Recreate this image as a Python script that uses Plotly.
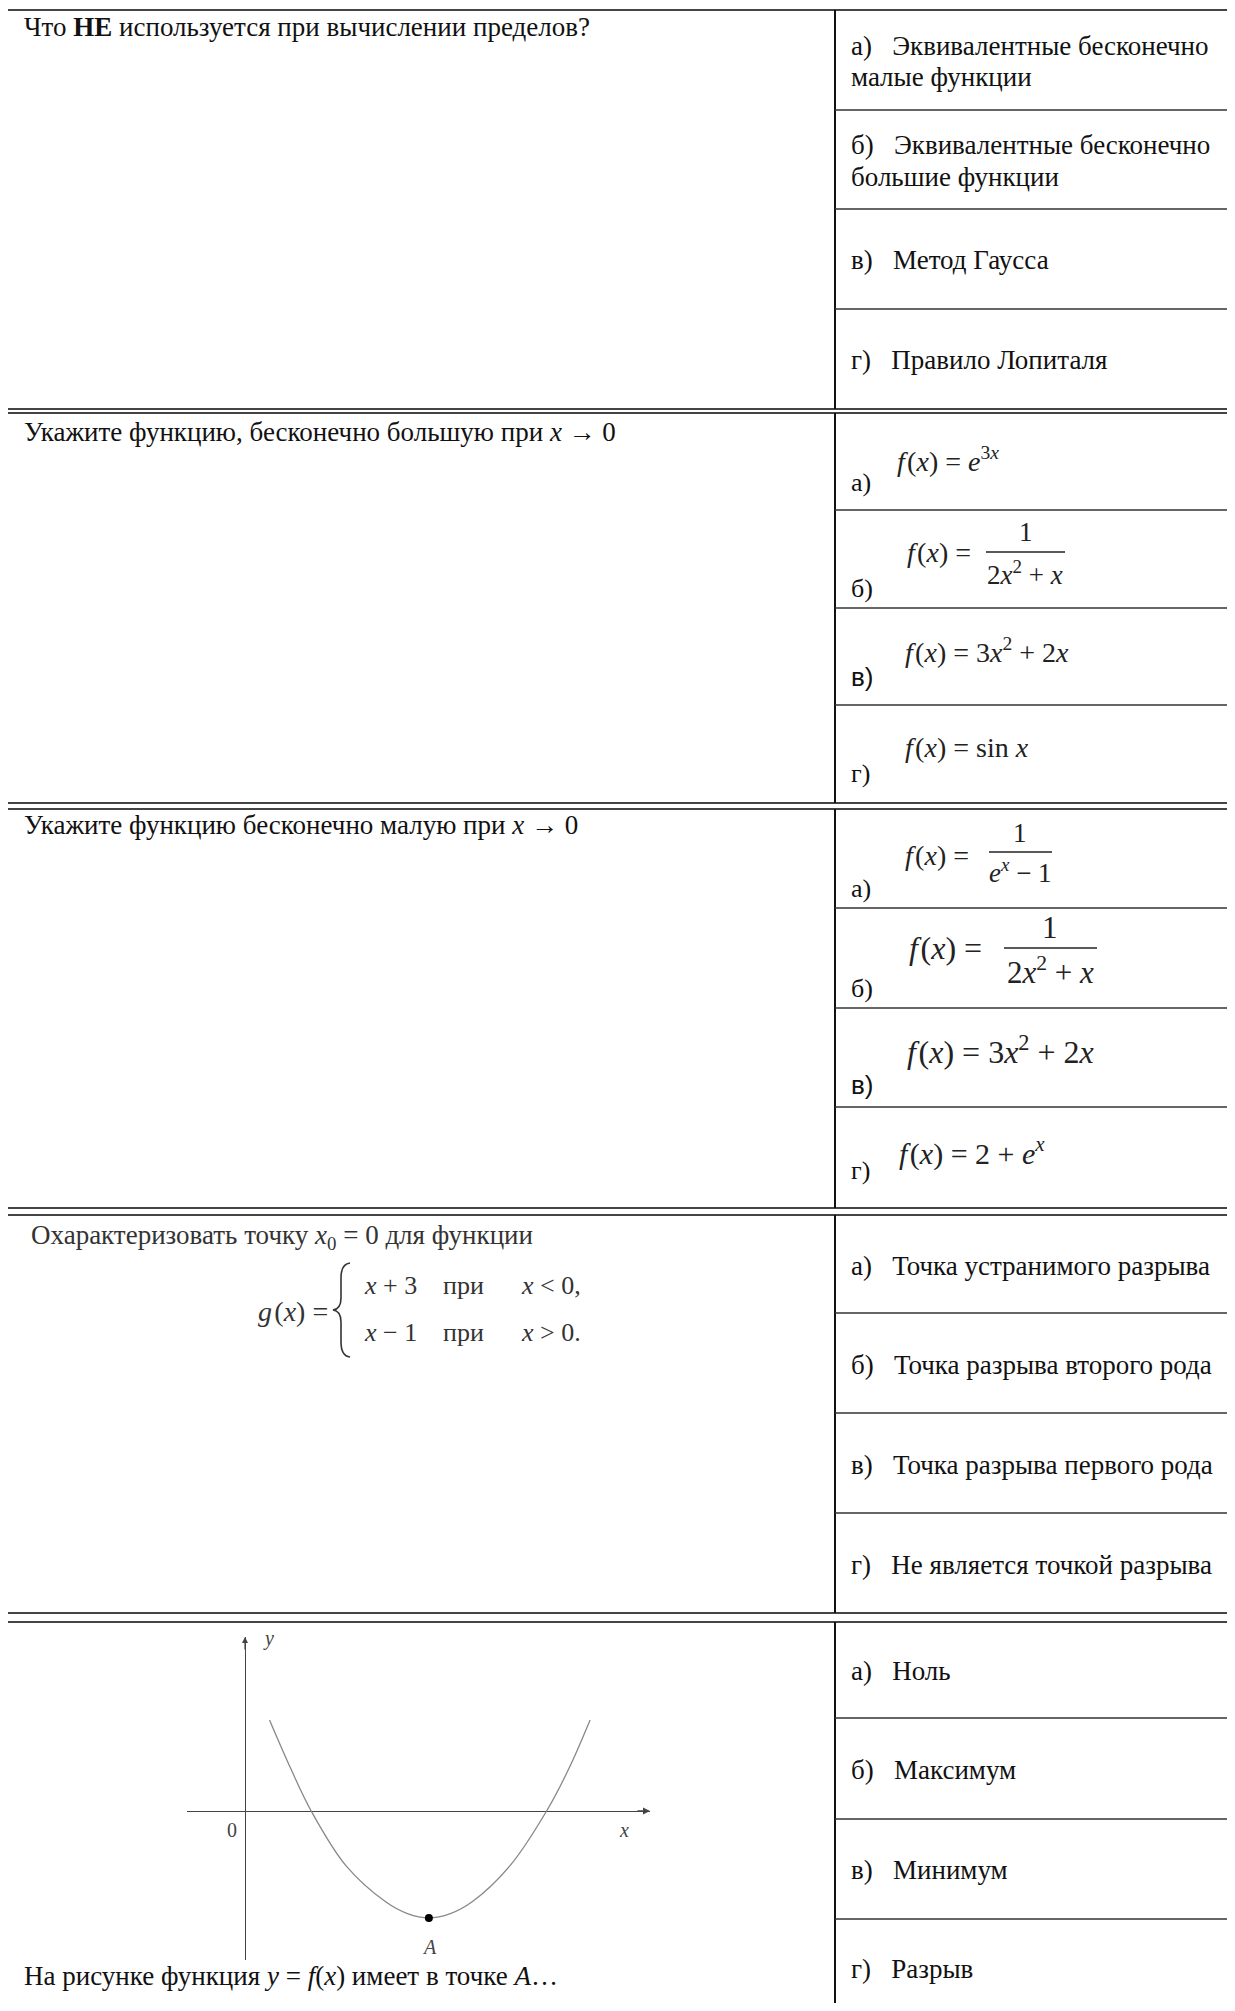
import plotly.graph_objects as go

W, H = 1235, 2011
OFF = 8  # browser body margin around the plot div
SERIF = "Liberation Serif, Times New Roman, serif"
SANS = "Liberation Sans, Arial, sans-serif"

# ---- content -------------------------------------------------------------
questions = [
    "Что <b>НЕ</b> используется при вычислении пределов?",
    "Укажите функцию, бесконечно большую при <i>x</i> → 0",
    "Укажите функцию бесконечно малую при <i>x</i> → 0",
    "Охарактеризовать точку <i>x</i><sub>0</sub> = 0 для функции",
    "На рисунке функция <i>y</i> = <i>f</i>(<i>x</i>) имеет в точке <i>A</i>…",
]
labels = ["а)", "б)", "в)", "г)"]

answers_limits = [
    ["Эквивалентные бесконечно", "малые функции"],
    ["Эквивалентные бесконечно", "большие функции"],
    ["Метод Гаусса"],
    ["Правило Лопиталя"],
]
answers_discont = ["Точка устранимого разрыва", "Точка разрыва второго рода",
                   "Точка разрыва первого рода", "Не является точкой разрыва"]
answers_point = ["Ноль", "Максимум", "Минимум", "Разрыв"]

FX = "<i>f</i>&#8202;(<i>x</i>)&nbsp;=&nbsp;"
big_plain = ["<i>e</i><sup>3<i>x</i></sup>", None, "3<i>x</i><sup>2</sup> + 2<i>x</i>", "sin&nbsp;<i>x</i>"]
big_frac = [None, ("1", "2<i>x</i><sup>2</sup> + <i>x</i>"), None, None]
small_plain = [None, None, "3<i>x</i><sup>2</sup> + 2<i>x</i>", "2 + <i>e</i><sup><i>x</i></sup>"]
small_frac = [("1", "<i>e</i><sup><i>x</i></sup> − 1"), ("1", "2<i>x</i><sup>2</sup> + <i>x</i>"), None, None]

piece_expr = ["<i>x</i> + 3", "<i>x</i> − 1"]
piece_cond = ["<i>x</i> &lt; 0,", "<i>x</i> &gt; 0."]

# parabola (x-axis units / y-axis units)
curve_x = [0.40, 0.75, 1.08, 1.65, 2.30, 2.65, 3.00, 3.35, 3.70, 4.32, 4.92, 5.28, 5.63]
curve_y = [3.15, 1.45, 0.00, -1.90, -3.15, -3.55, -3.70, -3.55, -3.15, -1.90, 0.00, 1.45, 3.15]
point_a = (3.0, -3.7)

# ---- layout geometry (page pixels) ---------------------------------------
LEFT, DIV, RIGHT = 7, 835, 1240
tops = [10, 413, 809, 1215, 1622]
bottoms = [409, 803, 1208, 1613, 2022]
rows = [[110, 209, 309], [510, 608, 705], [908, 1008, 1107], [1313, 1413, 1513], [1718, 1819, 1919]]

shapes, ann = [], []


def line(x0, y0, x1, y1, color="#333", width=1.6):
    shapes.append(dict(type="line", xref="x", yref="y", x0=x0, y0=y0, x1=x1, y1=y1,
                       line=dict(color=color, width=width)))


def txt(x, y, s, size=27, anchor="left", family=SERIF, color="#111"):
    ann.append(dict(x=x, y=y, xref="x", yref="y", text=s, showarrow=False,
                    xanchor=anchor, yanchor="middle",
                    font=dict(size=size, family=family, color=color)))


for t, b, r in zip(tops, bottoms, rows):
    line(LEFT, t, RIGHT, t, "#444", 2)
    line(LEFT, b, RIGHT, b, "#444", 2)
    line(LEFT, t, LEFT, b, "#777", 1.5)
    line(DIV, t, DIV, b, "#111", 2)
    for yy in r:
        line(DIV, yy, RIGHT, yy, "#333", 1.6)

AX = 849
GAP = "&nbsp;&nbsp;&nbsp;"
# table 1
txt(22, 27, questions[0])
ans_y = [[46, 77], [145, 177], [260], [360]]
for lab, lines_, ys in zip(labels, answers_limits, ans_y):
    txt(AX, ys[0], lab + GAP + lines_[0])
    for extra, yy in zip(lines_[1:], ys[1:]):
        txt(AX, yy, extra)

# table 2
txt(22, 432, questions[1])
lab_y2 = [482, 588, 677, 773]
f_y2 = [459, 552, 650, 747]
f_x2 = [895, 905, 903, 903]
num2 = [None, (1026, 532), None, None]
bar2 = [None, (986, 1065, 552), None, None]
den2 = [None, (1025, 573), None, None]
for i in range(4):
    txt(AX, lab_y2[i], labels[i], 26, family=SANS if i == 2 else SERIF)
    if big_plain[i]:
        txt(f_x2[i], f_y2[i], FX + big_plain[i], 28, color="#222")
    else:
        txt(f_x2[i], f_y2[i], FX, 28, color="#222")
        n, d = big_frac[i]
        txt(num2[i][0], num2[i][1], n, 27, "center", color="#222")
        txt(den2[i][0], den2[i][1], d, 27, "center", color="#222")
        line(bar2[i][0], bar2[i][2], bar2[i][1], bar2[i][2], "#222", 1.4)

# table 3
txt(22, 825, questions[2])
lab_y3 = [888, 988, 1085, 1170]
f_y3 = [855, 948, 1050, 1151]
f_x3 = [903, 907, 905, 897]
num3 = [(1020, 833), (1050, 927), None, None]
bar3 = [(989, 1052, 852), (1004, 1097, 948), None, None]
den3 = [(1020, 871), (1050, 970), None, None]
f_size3 = [28, 32, 32, 30]
for i in range(4):
    txt(AX, lab_y3[i], labels[i], 26, family=SANS if i == 2 else SERIF)
    if small_plain[i]:
        txt(f_x3[i], f_y3[i], FX + small_plain[i], f_size3[i], color="#222")
    else:
        txt(f_x3[i], f_y3[i], FX, f_size3[i], color="#222")
        n, d = small_frac[i]
        txt(num3[i][0], num3[i][1], n, f_size3[i] - 1, "center", color="#222")
        txt(den3[i][0], den3[i][1], d, f_size3[i] - 1, "center", color="#222")
        line(bar3[i][0], bar3[i][2], bar3[i][1], bar3[i][2], "#222", 1.4)

# table 4
txt(29, 1237, questions[3], 27, color="#333")
txt(330, 1311, "<i>g</i>&#8202;(<i>x</i>)&nbsp;=", 28, "right", color="#333")
shapes.append(dict(type="path", xref="x", yref="y",
                   path="M 350,1263 Q 341,1264 341,1278 L 341,1298 Q 341,1309 333,1310 "
                        "Q 341,1311 341,1322 L 341,1342 Q 341,1356 350,1357",
                   line=dict(color="#333", width=1.6)))
for k, yy in enumerate([1285, 1332]):
    txt(362, yy, piece_expr[k], 26, color="#333")
    txt(441, yy, "при", 26, color="#333")
    txt(519, yy, piece_cond[k], 26, color="#333")
for i, yy in enumerate([1266, 1365, 1465, 1565]):
    txt(AX, yy, labels[i] + GAP + answers_discont[i])

# table 5
txt(22, 1976, questions[4])
for i, yy in enumerate([1671, 1770, 1870, 1969]):
    txt(AX, yy, labels[i] + GAP + answers_point[i])

# small plot axes: page box x 187..650, y 1637..1960 ; origin at (245, 1811)
PX0, PX1, PY0, PY1 = 187, 650, 1637, 1960
UX, UY = 61.3, 28.9
xr = [(PX0 - 245) / UX, (PX1 - 245) / UX]
yr = [(1811 - PY1) / UY, (1811 - PY0) / UY]

FW, FH = W - 2 * OFF, H - 2 * OFF


def fx(p):
    return (p - OFF) / FW


def fy(p):
    return 1 - (p - OFF) / FH


fig = go.Figure()
fig.add_trace(go.Scatter(x=curve_x, y=curve_y, mode="lines", xaxis="x2", yaxis="y2",
                         line=dict(color="#888", width=1.3, shape="spline"),
                         hoverinfo="skip", showlegend=False))
fig.add_trace(go.Scatter(x=[point_a[0]], y=[point_a[1]], mode="markers", xaxis="x2", yaxis="y2",
                         marker=dict(color="#000", size=8), showlegend=False))

ann.append(dict(x=xr[1], y=0, xref="x2", yref="y2", ax=-14, ay=0, showarrow=True,
                arrowhead=2, arrowsize=1, arrowwidth=1.4, arrowcolor="#444", text=""))
ann.append(dict(x=0, y=yr[1], xref="x2", yref="y2", ax=0, ay=14, showarrow=True,
                arrowhead=2, arrowsize=1, arrowwidth=1.2, arrowcolor="#444", text=""))
txt(268, 1638, "<i>y</i>", 20, "center", color="#444")
txt(232, 1830, "0", 20, "center", color="#444")
txt(624, 1830, "<i>x</i>", 20, "center", color="#444")
txt(429, 1947, "<i>A</i>", 20, "center", color="#444")

axis_off = dict(showgrid=False, zeroline=False, showticklabels=False, ticks="", showline=False)
fig.update_layout(
    width=FW, height=FH,
    margin=dict(l=0, r=0, t=0, b=0),
    paper_bgcolor="white", plot_bgcolor="rgba(0,0,0,0)",
    xaxis=dict(range=[OFF, W - OFF], domain=[0, 1], visible=False),
    yaxis=dict(range=[H - OFF, OFF], domain=[0, 1], visible=False),
    xaxis2=dict(axis_off, range=xr, domain=[fx(PX0), fx(PX1)], anchor="y2",
                zeroline=True, zerolinecolor="#444", zerolinewidth=1),
    yaxis2=dict(axis_off, range=yr, domain=[fy(PY1), fy(PY0)], anchor="x2",
                zeroline=True, zerolinecolor="#444", zerolinewidth=1.4),
    shapes=shapes, annotations=ann,
    showlegend=False,
)
fig.write_html("out.html")
